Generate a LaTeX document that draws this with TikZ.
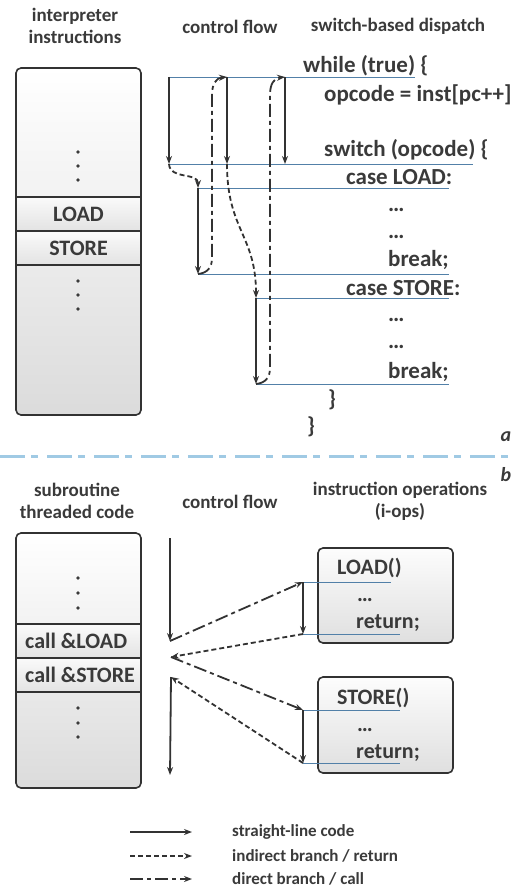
\documentclass[tikz,border=0pt]{standalone}
\usepackage{fontspec}
\setmainfont{Carlito}
\usetikzlibrary{arrows.meta}

\definecolor{ink}{RGB}{58,58,58}
\definecolor{frame}{RGB}{50,50,50}
\definecolor{rowblue}{RGB}{82,128,168}
\definecolor{sepblue}{RGB}{160,202,228}

\tikzset{
	flow/.style={draw=frame, line width=1.8pt, -{Stealth[length=8pt,width=6pt]}},
	plain/.style={flow},
	indir/.style={flow, dash pattern=on 5pt off 3pt},
	dircall/.style={flow, dash pattern=on 13pt off 4pt on 4pt off 4pt},
	row/.style={draw=rowblue, line width=0.8pt},
	head/.style={text=ink, font=\bfseries\fontsize{19}{22}\selectfont, align=center, inner sep=0pt},
	code/.style={text=ink, font=\bfseries\fontsize{23}{26}\selectfont, anchor=west, inner sep=0pt},
	opcode/.style={code, font=\bfseries\fontsize{22}{25}\selectfont},
	column/.style={draw=frame, line width=1.6pt, rounded corners=5pt, top color=white, bottom color=gray!28, minimum width=125pt, inner sep=0pt},
	cell/.style={draw=frame, line width=1.3pt, top color=gray!4, bottom color=gray!22, minimum width=125pt, minimum height=34pt, inner sep=0pt, text=ink, font=\bfseries\fontsize{22}{25}\selectfont},
	celltext/.style={text=ink, font=\bfseries\fontsize{22}{25}\selectfont, anchor=west, inner sep=0pt},
	iop/.style={draw=frame, line width=1.6pt, rounded corners=5pt, top color=gray!2, bottom color=gray!25, minimum width=135pt, inner sep=0pt},
	vdot/.style={fill=ink, circle, inner sep=0pt, minimum size=3.8pt},
	key/.style={text=ink, font=\bfseries\fontsize{17}{20}\selectfont, anchor=west, inner sep=0pt},
	part/.style={text=ink, font=\bfseries\itshape\fontsize{20}{22}\selectfont, inner sep=0pt}
}

\begin{document}
\begin{tikzpicture}[x=1pt,y=-1pt]
	\useasboundingbox (0,0) rectangle (516,890);

	\node[head] (hinsta) at (75,26) {interpreter\\instructions};
	\node[head] (hflowa) at (230,27) {control flow};
	\node[head] (hdisp) at (398,26) {switch-based dispatch};

	\node[column, minimum height=347pt] (progA) at (78.5,241.5) {};
	\node[cell] (cload) at (78.5,214) {LOAD};
	\node[cell] (cstore) at (78.5,248) {STORE};
	\foreach \y [count=\i] in {152,166,180} \node[vdot] (dau\i) at (78,\y) {};
	\foreach \y [count=\i] in {281,295,309} \node[vdot] (dal\i) at (78,\y) {};

	\coordinate (wl) at (169,77);
	\coordinate (wr) at (415,77);
	\coordinate (w2) at (227,77);
	\coordinate (w3) at (285,77);
	\coordinate (sl) at (169,164);
	\coordinate (sr) at (473,164);
	\coordinate (s2) at (227,164);
	\coordinate (s3) at (285,164);
	\coordinate (la) at (198,188);
	\coordinate (lar) at (449,188);
	\coordinate (lb) at (198,274);
	\coordinate (lbr) at (449,274);
	\coordinate (sa) at (256,298);
	\coordinate (sar) at (449,298);
	\coordinate (sb) at (256,384);
	\coordinate (sbr) at (449,384);

	\draw[row] (wl) -- (wr);
	\draw[row] (sl) -- (sr);
	\draw[row] (la) -- (lar);
	\draw[row] (lb) -- (lbr);
	\draw[row] (sa) -- (sar);
	\draw[row] (sb) -- (sbr);

	\node[code] (cwhile) at (303,66) {while (true) \{};
	\node[code] (cfetch) at (324,95) {opcode = inst[pc++]};
	\node[code] (cswitch) at (324,150) {switch (opcode) \{};
	\node[code] (ccasel) at (346,177) {case LOAD:};
	\node[code] (cdl1) at (388,210) {…};
	\node[code] (cdl2) at (388,237) {…};
	\node[code] (cbrl) at (388,260) {break;};
	\node[code] (ccases) at (346,288) {case STORE:};
	\node[code] (cds1) at (388,320) {…};
	\node[code] (cds2) at (388,347) {…};
	\node[code] (cbrs) at (388,372) {break;};
	\node[code] (cend1) at (328,400) {\}};
	\node[code] (cend2) at (307,427) {\}};

	\draw[plain] (wl) -- (sl);
	\draw[plain] (w2) -- (s2);
	\draw[plain] (w3) -- (s3);
	\draw[plain] (la) -- (lb);
	\draw[plain] (sa) -- (sb);
	\draw[indir] (sl) .. controls (170,180) and (198,172) .. (la);
	\draw[indir] (s2) .. controls (227,230) and (256,235) .. (sa);
	\draw[dircall] (lb) .. controls (207,273) and (212,268) .. (212,258) -- (212,95) .. controls (212,84) and (216,78) .. (w2);
	\draw[dircall] (sb) .. controls (265,383) and (270,378) .. (270,368) -- (270,95) .. controls (270,84) and (274,78) .. (w3);

	\node[part] (pa) at (506,437) {a};
	\draw[sepblue, line width=3pt, dash pattern=on 25pt off 6pt on 7pt off 9pt] (0,456) -- (516,456);
	\node[part] (pb) at (506,475) {b};

	\node[head] (hinstb) at (77,501) {subroutine\\threaded code};
	\node[head] (hflowb) at (230,502) {control flow};
	\node[head] (hiops) at (400,501) {instruction operations\\(i-ops)};

	\node[column, minimum height=255pt] (progB) at (78.5,660.5) {};
	\node[cell] (ccload) at (78.5,641) {};
	\node[cell] (ccstore) at (78.5,675) {};
	\node[celltext] (tcload) at (25,641) {call \&LOAD};
	\node[celltext] (tcstore) at (25,675) {call \&STORE};
	\foreach \y [count=\i] in {578,593,608} \node[vdot] (dbu\i) at (78,\y) {};
	\foreach \y [count=\i] in {708,723,737} \node[vdot] (dbl\i) at (78,\y) {};

	\node[iop, minimum height=95pt] (opload) at (385.5,595.5) {};
	\node[iop, minimum height=96pt] (opstore) at (385.5,725) {};
	\node[opcode] (tload) at (337,568) {LOAD()};
	\node[opcode] (tldots) at (357,600) {…};
	\node[opcode] (tlret) at (356,623) {return;};
	\node[opcode] (tstore) at (337,698) {STORE()};
	\node[opcode] (tsdots) at (357,730) {…};
	\node[opcode] (tsret) at (356,753) {return;};

	\coordinate (le) at (303,582);
	\coordinate (ler) at (391,582);
	\coordinate (lx) at (303,634);
	\coordinate (lxr) at (400,634);
	\coordinate (se) at (303,710);
	\coordinate (ser) at (400,710);
	\coordinate (sx) at (303,763);
	\coordinate (sxr) at (400,763);
	\coordinate (ca) at (170,538);
	\coordinate (cb) at (170,641);
	\coordinate (cr) at (171,657);
	\coordinate (cc) at (171,677);
	\coordinate (ce) at (170,775);

	\draw[row] (le) -- (ler);
	\draw[row] (lx) -- (lxr);
	\draw[row] (se) -- (ser);
	\draw[row] (sx) -- (sxr);

	\draw[plain] (ca) -- (cb);
	\draw[dircall] (cb) -- (le);
	\draw[plain] (le) -- (lx);
	\draw[indir] (lx) -- (cr);
	\draw[dircall] (cr) -- (se);
	\draw[plain] (se) -- (sx);
	\draw[indir] (sx) -- (cc);
	\draw[plain] (cc) -- (ce);

	\coordinate (k1a) at (130,832);
	\coordinate (k1b) at (192,832);
	\coordinate (k2a) at (130,856);
	\coordinate (k2b) at (192,856);
	\coordinate (k3a) at (130,879);
	\coordinate (k3b) at (192,879);
	\draw[plain] (k1a) -- (k1b);
	\draw[indir] (k2a) -- (k2b);
	\draw[dircall] (k3a) -- (k3b);
	\node[key] (kplain) at (232,832) {straight-line code};
	\node[key] (kindir) at (232,856) {indirect branch / return};
	\node[key] (kdir) at (232,879) {direct branch / call};
\end{tikzpicture}
\end{document}
